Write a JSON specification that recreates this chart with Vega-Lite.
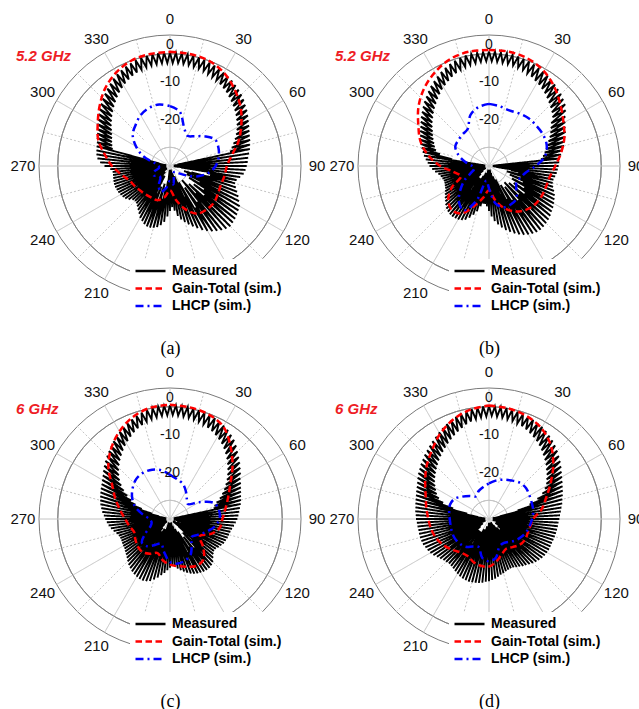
{
"$schema":"https://vega.github.io/schema/vega-lite/v6.json",
"background":"white",
"padding":{"left":10,"top":11,"right":0,"bottom":0},
"config":{"view":{"stroke":null},
"axisX":{"domain":false,"ticks":false,"labels":false,"grid":false,"titleFont":"Liberation Serif","titleFontSize":18,"titleFontWeight":"normal","titleColor":"#000","titlePadding":42},
"legend":{"symbolType":"stroke","symbolSize":900,"symbolStrokeWidth":2.5,"labelFont":"Liberation Sans","labelFontSize":14,"labelFontWeight":"bold","labelColor":"#000","fillColor":"white","padding":4,"clipHeight":16,"rowPadding":1.5,"labelOffset":5}},
"datasets":{
"rings":[{"v":-25,"k":"d"},{"v":-20,"k":"s"},{"v":-15,"k":"d"},{"v":-10,"k":"s"},{"v":-5,"k":"d"},{"v":0,"k":"s"},{"v":5,"k":"o"}],
"spokes":[{"t":0,"f":-30},{"t":30,"f":-30},{"t":60,"f":-30},{"t":90,"f":-30},{"t":120,"f":-30},{"t":150,"f":-30},{"t":180,"f":-30},{"t":210,"f":-30},{"t":240,"f":-30},{"t":270,"f":-30},{"t":300,"f":-30},{"t":330,"f":-30},{"t":15,"f":-20},{"t":45,"f":-20},{"t":75,"f":-20},{"t":105,"f":-20},{"t":135,"f":-20},{"t":165,"f":-20},{"t":195,"f":-20},{"t":225,"f":-20},{"t":255,"f":-20},{"t":285,"f":-20},{"t":315,"f":-20},{"t":345,"f":-20}],
"alab":[{"t":0,"l":"0"},{"t":30,"l":"30"},{"t":60,"l":"60"},{"t":90,"l":"90"},{"t":120,"l":"120"},{"t":210,"l":"210"},{"t":240,"l":"240"},{"t":270,"l":"270"},{"t":300,"l":"300"},{"t":330,"l":"330"}],
"rlab":[{"v":0,"l":"0"},{"v":-10,"l":"-10"},{"v":-20,"l":"-20"}],
"a":[
{"s":"M","t":0,"g":0.3},{"s":"M","t":1.5,"g":-2.5},{"s":"M","t":3,"g":0.3},{"s":"M","t":4.5,"g":-2.4},{"s":"M","t":6,"g":0.2},{"s":"M","t":7.5,"g":-2.5},{"s":"M","t":9,"g":0.2},{"s":"M","t":10.5,"g":-2.6},{"s":"M","t":12,"g":0.1},{"s":"M","t":13.5,"g":-2.8},{"s":"M","t":15,"g":0},{"s":"M","t":16.5,"g":-2.9},{"s":"M","t":18,"g":-0.2},{"s":"M","t":19.5,"g":-3.1},{"s":"M","t":21,"g":-0.4},{"s":"M","t":22.5,"g":-3.4},{"s":"M","t":24,"g":-0.6},{"s":"M","t":25.5,"g":-3.7},{"s":"M","t":27,"g":-0.9},{"s":"M","t":28.5,"g":-4},{"s":"M","t":30,"g":-1.2},{"s":"M","t":31.5,"g":-4.4},{"s":"M","t":33,"g":-1.5},{"s":"M","t":34.5,"g":-4.8},{"s":"M","t":36,"g":-1.8},{"s":"M","t":37.5,"g":-5.2},{"s":"M","t":39,"g":-2.2},{"s":"M","t":40.5,"g":-5.7},{"s":"M","t":42,"g":-2.6},{"s":"M","t":43.5,"g":-6.2},{"s":"M","t":45,"g":-3},{"s":"M","t":46.5,"g":-6.7},{"s":"M","t":48,"g":-3.5},{"s":"M","t":49.5,"g":-7.2},{"s":"M","t":51,"g":-4.1},{"s":"M","t":52.5,"g":-7.8},{"s":"M","t":54,"g":-4.6},{"s":"M","t":55.5,"g":-8.4},{"s":"M","t":57,"g":-5.2},{"s":"M","t":58.5,"g":-9},{"s":"M","t":60,"g":-5.8},{"s":"M","t":61.5,"g":-9.7},{"s":"M","t":63,"g":-6.3},{"s":"M","t":64.5,"g":-10.4},{"s":"M","t":66,"g":-6.8},{"s":"M","t":67.5,"g":-11.2},{"s":"M","t":69,"g":-7.2},{"s":"M","t":70.5,"g":-12},{"s":"M","t":72,"g":-7.5},{"s":"M","t":73.5,"g":-12.8},{"s":"M","t":75,"g":-7.9},{"s":"M","t":76.5,"g":-13.5},{"s":"M","t":78,"g":-8.2},{"s":"M","t":79.5,"g":-28},{"s":"M","t":81,"g":-8.6},{"s":"M","t":82.5,"g":-29},{"s":"M","t":84,"g":-9},{"s":"M","t":85.5,"g":-28},{"s":"M","t":87,"g":-9.2},{"s":"M","t":88.5,"g":-29},{"s":"M","t":90,"g":-9.5},{"s":"M","t":91.5,"g":-28.5},{"s":"M","t":93,"g":-9.8},{"s":"M","t":94.5,"g":-29},{"s":"M","t":96,"g":-10.2},{"s":"M","t":97.5,"g":-27},{"s":"M","t":99,"g":-11},{"s":"M","t":100.5,"g":-20},{"s":"M","t":102,"g":-11.8},{"s":"M","t":103.5,"g":-19},{"s":"M","t":105,"g":-12},{"s":"M","t":106.5,"g":-24},{"s":"M","t":108,"g":-11.5},{"s":"M","t":109.5,"g":-26},{"s":"M","t":111,"g":-10.8},{"s":"M","t":112.5,"g":-23},{"s":"M","t":114,"g":-10},{"s":"M","t":115.5,"g":-25},{"s":"M","t":117,"g":-9.3},{"s":"M","t":118.5,"g":-21},{"s":"M","t":120,"g":-8.5},{"s":"M","t":121.5,"g":-24},{"s":"M","t":123,"g":-8.2},{"s":"M","t":124.5,"g":-19},{"s":"M","t":126,"g":-7.9},{"s":"M","t":127.5,"g":-22},{"s":"M","t":129,"g":-7.6},{"s":"M","t":130.5,"g":-18},{"s":"M","t":132,"g":-7.4},{"s":"M","t":133.5,"g":-23},{"s":"M","t":135,"g":-7.2},{"s":"M","t":136.5,"g":-20},{"s":"M","t":138,"g":-7.5},{"s":"M","t":139.5,"g":-25},{"s":"M","t":141,"g":-8},{"s":"M","t":142.5,"g":-18},{"s":"M","t":144,"g":-8.6},{"s":"M","t":145.5,"g":-23},{"s":"M","t":147,"g":-9.2},{"s":"M","t":148.5,"g":-17},{"s":"M","t":150,"g":-10},{"s":"M","t":151.5,"g":-25},{"s":"M","t":153,"g":-10.8},{"s":"M","t":154.5,"g":-21},{"s":"M","t":156,"g":-11.8},{"s":"M","t":157.5,"g":-27},{"s":"M","t":159,"g":-12.7},{"s":"M","t":160.5,"g":-22},{"s":"M","t":162,"g":-13.6},{"s":"M","t":163.5,"g":-28},{"s":"M","t":165,"g":-14.5},{"s":"M","t":166.5,"g":-27},{"s":"M","t":168,"g":-15.4},{"s":"M","t":169.5,"g":-29},{"s":"M","t":171,"g":-16.5},{"s":"M","t":172.5,"g":-28},{"s":"M","t":174,"g":-18},{"s":"M","t":175.5,"g":-29},{"s":"M","t":177,"g":-19},{"s":"M","t":178.5,"g":-29},{"s":"M","t":180,"g":-18},{"s":"M","t":181.5,"g":-28},{"s":"M","t":183,"g":-16.5},{"s":"M","t":184.5,"g":-29},{"s":"M","t":186,"g":-15},{"s":"M","t":187.5,"g":-26},{"s":"M","t":189,"g":-14},{"s":"M","t":190.5,"g":-24},{"s":"M","t":192,"g":-13.3},{"s":"M","t":193.5,"g":-21},{"s":"M","t":195,"g":-12.9},{"s":"M","t":196.5,"g":-25},{"s":"M","t":198,"g":-12.7},{"s":"M","t":199.5,"g":-20},{"s":"M","t":201,"g":-12.7},{"s":"M","t":202.5,"g":-24},{"s":"M","t":204,"g":-13},{"s":"M","t":205.5,"g":-22},{"s":"M","t":207,"g":-13.5},{"s":"M","t":208.5,"g":-27},{"s":"M","t":210,"g":-14},{"s":"M","t":211.5,"g":-23},{"s":"M","t":213,"g":-14.8},{"s":"M","t":214.5,"g":-27},{"s":"M","t":216,"g":-15.5},{"s":"M","t":217.5,"g":-25},{"s":"M","t":219,"g":-16.1},{"s":"M","t":220.5,"g":-28},{"s":"M","t":222,"g":-16.6},{"s":"M","t":223.5,"g":-26},{"s":"M","t":225,"g":-16.8},{"s":"M","t":226.5,"g":-28},{"s":"M","t":228,"g":-16.5},{"s":"M","t":229.5,"g":-27},{"s":"M","t":231,"g":-15.8},{"s":"M","t":232.5,"g":-29},{"s":"M","t":234,"g":-15.2},{"s":"M","t":235.5,"g":-27},{"s":"M","t":237,"g":-14.9},{"s":"M","t":238.5,"g":-29},{"s":"M","t":240,"g":-14.7},{"s":"M","t":241.5,"g":-26},{"s":"M","t":243,"g":-14.5},{"s":"M","t":244.5,"g":-28},{"s":"M","t":246,"g":-14.4},{"s":"M","t":247.5,"g":-27},{"s":"M","t":249,"g":-14.3},{"s":"M","t":250.5,"g":-29},{"s":"M","t":252,"g":-14.3},{"s":"M","t":253.5,"g":-28},{"s":"M","t":255,"g":-14.4},{"s":"M","t":256.5,"g":-29},{"s":"M","t":258,"g":-14.5},{"s":"M","t":259.5,"g":-28},{"s":"M","t":261,"g":-14.6},{"s":"M","t":262.5,"g":-29},{"s":"M","t":264,"g":-14.6},{"s":"M","t":265.5,"g":-29},{"s":"M","t":267,"g":-14},{"s":"M","t":268.5,"g":-29},{"s":"M","t":270,"g":-12.5},{"s":"M","t":271.5,"g":-29},{"s":"M","t":273,"g":-11.3},{"s":"M","t":274.5,"g":-29},{"s":"M","t":276,"g":-10.5},{"s":"M","t":277.5,"g":-28},{"s":"M","t":279,"g":-10.1},{"s":"M","t":280.5,"g":-29},{"s":"M","t":282,"g":-9.9},{"s":"M","t":283.5,"g":-27},{"s":"M","t":285,"g":-9.7},{"s":"M","t":286.5,"g":-14},{"s":"M","t":288,"g":-9.5},{"s":"M","t":289.5,"g":-13.6},{"s":"M","t":291,"g":-9.1},{"s":"M","t":292.5,"g":-13.2},{"s":"M","t":294,"g":-8.7},{"s":"M","t":295.5,"g":-12.8},{"s":"M","t":297,"g":-8.2},{"s":"M","t":298.5,"g":-12.3},{"s":"M","t":300,"g":-7.6},{"s":"M","t":301.5,"g":-11.7},{"s":"M","t":303,"g":-7},{"s":"M","t":304.5,"g":-11},{"s":"M","t":306,"g":-6.4},{"s":"M","t":307.5,"g":-10.3},{"s":"M","t":309,"g":-5.8},{"s":"M","t":310.5,"g":-9.6},{"s":"M","t":312,"g":-5.2},{"s":"M","t":313.5,"g":-8.9},{"s":"M","t":315,"g":-4.6},{"s":"M","t":316.5,"g":-8.2},{"s":"M","t":318,"g":-4},{"s":"M","t":319.5,"g":-7.5},{"s":"M","t":321,"g":-3.4},{"s":"M","t":322.5,"g":-6.8},{"s":"M","t":324,"g":-2.8},{"s":"M","t":325.5,"g":-6.1},{"s":"M","t":327,"g":-2.2},{"s":"M","t":328.5,"g":-5.5},{"s":"M","t":330,"g":-1.7},{"s":"M","t":331.5,"g":-4.9},{"s":"M","t":333,"g":-1.3},{"s":"M","t":334.5,"g":-4.4},{"s":"M","t":336,"g":-0.9},{"s":"M","t":337.5,"g":-3.9},{"s":"M","t":339,"g":-0.6},{"s":"M","t":340.5,"g":-3.5},{"s":"M","t":342,"g":-0.3},{"s":"M","t":343.5,"g":-3.2},{"s":"M","t":345,"g":-0.1},{"s":"M","t":346.5,"g":-2.9},{"s":"M","t":348,"g":0.1},{"s":"M","t":349.5,"g":-2.7},{"s":"M","t":351,"g":0.2},{"s":"M","t":352.5,"g":-2.6},{"s":"M","t":354,"g":0.3},{"s":"M","t":355.5,"g":-2.5},{"s":"M","t":357,"g":0.3},{"s":"M","t":358.5,"g":-2.5},{"s":"M","t":360,"g":0.3},
{"s":"G","t":0,"g":0.5},{"s":"G","t":10,"g":0.4},{"s":"G","t":20,"g":0},{"s":"G","t":30,"g":-1.2},{"s":"G","t":40,"g":-3.2},{"s":"G","t":50,"g":-5.4},{"s":"G","t":60,"g":-8},{"s":"G","t":70,"g":-10.5},{"s":"G","t":80,"g":-13.2},{"s":"G","t":90,"g":-14.8},{"s":"G","t":100,"g":-15.2},{"s":"G","t":110,"g":-15.5},{"s":"G","t":120,"g":-15.2},{"s":"G","t":130,"g":-14.7},{"s":"G","t":140,"g":-14.8},{"s":"G","t":150,"g":-15.3},{"s":"G","t":160,"g":-17.6},{"s":"G","t":170,"g":-20.8},{"s":"G","t":180,"g":-23.5},{"s":"G","t":190,"g":-21.5},{"s":"G","t":200,"g":-20.3},{"s":"G","t":210,"g":-20.2},{"s":"G","t":220,"g":-20},{"s":"G","t":230,"g":-19.7},{"s":"G","t":240,"g":-19.2},{"s":"G","t":250,"g":-18.5},{"s":"G","t":260,"g":-16.8},{"s":"G","t":270,"g":-14.5},{"s":"G","t":280,"g":-12.3},{"s":"G","t":290,"g":-9.6},{"s":"G","t":300,"g":-7.7},{"s":"G","t":310,"g":-5.4},{"s":"G","t":320,"g":-3},{"s":"G","t":330,"g":-1.2},{"s":"G","t":340,"g":0},{"s":"G","t":350,"g":0.4},{"s":"G","t":360,"g":0.5},
{"s":"L","t":0,"g":-14},{"s":"L","t":10,"g":-15.2},{"s":"L","t":20,"g":-19},{"s":"L","t":30,"g":-20.7},{"s":"L","t":40,"g":-19.6},{"s":"L","t":50,"g":-17.7},{"s":"L","t":60,"g":-16},{"s":"L","t":70,"g":-16.2},{"s":"L","t":80,"g":-16.8},{"s":"L","t":90,"g":-17.8},{"s":"L","t":100,"g":-19.5},{"s":"L","t":110,"g":-22},{"s":"L","t":120,"g":-25},{"s":"L","t":130,"g":-27},{"s":"L","t":140,"g":-28},{"s":"L","t":150,"g":-28},{"s":"L","t":160,"g":-27},{"s":"L","t":170,"g":-25},{"s":"L","t":180,"g":-26},{"s":"L","t":190,"g":-24},{"s":"L","t":200,"g":-22.6},{"s":"L","t":210,"g":-24},{"s":"L","t":220,"g":-26},{"s":"L","t":230,"g":-26},{"s":"L","t":240,"g":-25},{"s":"L","t":250,"g":-25.5},{"s":"L","t":260,"g":-27},{"s":"L","t":270,"g":-27},{"s":"L","t":280,"g":-26},{"s":"L","t":290,"g":-22.4},{"s":"L","t":300,"g":-19.5},{"s":"L","t":310,"g":-17},{"s":"L","t":320,"g":-15.7},{"s":"L","t":330,"g":-14.3},{"s":"L","t":340,"g":-13.5},{"s":"L","t":350,"g":-13.3},{"s":"L","t":360,"g":-14}
],
"b":[
{"s":"M","t":0,"g":0.6},{"s":"M","t":1.5,"g":-2},{"s":"M","t":3,"g":0.6},{"s":"M","t":4.5,"g":-2.1},{"s":"M","t":6,"g":0.5},{"s":"M","t":7.5,"g":-2.2},{"s":"M","t":9,"g":0.5},{"s":"M","t":10.5,"g":-2.3},{"s":"M","t":12,"g":0.4},{"s":"M","t":13.5,"g":-2.4},{"s":"M","t":15,"g":0.3},{"s":"M","t":16.5,"g":-2.6},{"s":"M","t":18,"g":0.1},{"s":"M","t":19.5,"g":-2.8},{"s":"M","t":21,"g":-0.1},{"s":"M","t":22.5,"g":-3.2},{"s":"M","t":24,"g":-0.3},{"s":"M","t":25.5,"g":-3.6},{"s":"M","t":27,"g":-0.6},{"s":"M","t":28.5,"g":-4.1},{"s":"M","t":30,"g":-0.9},{"s":"M","t":31.5,"g":-4.5},{"s":"M","t":33,"g":-1.2},{"s":"M","t":34.5,"g":-5},{"s":"M","t":36,"g":-1.6},{"s":"M","t":37.5,"g":-5.5},{"s":"M","t":39,"g":-2},{"s":"M","t":40.5,"g":-6.1},{"s":"M","t":42,"g":-2.4},{"s":"M","t":43.5,"g":-6.7},{"s":"M","t":45,"g":-2.8},{"s":"M","t":46.5,"g":-7.3},{"s":"M","t":48,"g":-3.3},{"s":"M","t":49.5,"g":-7.9},{"s":"M","t":51,"g":-3.8},{"s":"M","t":52.5,"g":-8.6},{"s":"M","t":54,"g":-4.7},{"s":"M","t":55.5,"g":-9.8},{"s":"M","t":57,"g":-5.7},{"s":"M","t":58.5,"g":-10.6},{"s":"M","t":60,"g":-6.5},{"s":"M","t":61.5,"g":-11.3},{"s":"M","t":63,"g":-7.1},{"s":"M","t":64.5,"g":-12},{"s":"M","t":66,"g":-7.6},{"s":"M","t":67.5,"g":-12.8},{"s":"M","t":69,"g":-8.2},{"s":"M","t":70.5,"g":-13.5},{"s":"M","t":72,"g":-8.8},{"s":"M","t":73.5,"g":-14.1},{"s":"M","t":75,"g":-9.3},{"s":"M","t":76.5,"g":-14.7},{"s":"M","t":78,"g":-9.9},{"s":"M","t":79.5,"g":-15.3},{"s":"M","t":81,"g":-10.5},{"s":"M","t":82.5,"g":-16},{"s":"M","t":84,"g":-11},{"s":"M","t":85.5,"g":-29},{"s":"M","t":87,"g":-11.2},{"s":"M","t":88.5,"g":-29},{"s":"M","t":90,"g":-11.4},{"s":"M","t":91.5,"g":-28.5},{"s":"M","t":93,"g":-11.6},{"s":"M","t":94.5,"g":-29},{"s":"M","t":96,"g":-11.8},{"s":"M","t":97.5,"g":-28},{"s":"M","t":99,"g":-12.1},{"s":"M","t":100.5,"g":-24},{"s":"M","t":102,"g":-12.4},{"s":"M","t":103.5,"g":-22},{"s":"M","t":105,"g":-12.4},{"s":"M","t":106.5,"g":-25},{"s":"M","t":108,"g":-12},{"s":"M","t":109.5,"g":-21},{"s":"M","t":111,"g":-11.4},{"s":"M","t":112.5,"g":-24},{"s":"M","t":114,"g":-10.8},{"s":"M","t":115.5,"g":-20},{"s":"M","t":117,"g":-10.4},{"s":"M","t":118.5,"g":-23},{"s":"M","t":120,"g":-10},{"s":"M","t":121.5,"g":-19},{"s":"M","t":123,"g":-9.6},{"s":"M","t":124.5,"g":-22},{"s":"M","t":126,"g":-9.3},{"s":"M","t":127.5,"g":-18},{"s":"M","t":129,"g":-8.9},{"s":"M","t":130.5,"g":-23},{"s":"M","t":132,"g":-8.6},{"s":"M","t":133.5,"g":-19},{"s":"M","t":135,"g":-8.4},{"s":"M","t":136.5,"g":-24},{"s":"M","t":138,"g":-8.2},{"s":"M","t":139.5,"g":-18},{"s":"M","t":141,"g":-8.1},{"s":"M","t":142.5,"g":-23},{"s":"M","t":144,"g":-8.2},{"s":"M","t":145.5,"g":-19},{"s":"M","t":147,"g":-8.5},{"s":"M","t":148.5,"g":-24},{"s":"M","t":150,"g":-8.9},{"s":"M","t":151.5,"g":-20},{"s":"M","t":153,"g":-9.4},{"s":"M","t":154.5,"g":-26},{"s":"M","t":156,"g":-10},{"s":"M","t":157.5,"g":-22},{"s":"M","t":159,"g":-10.7},{"s":"M","t":160.5,"g":-27},{"s":"M","t":162,"g":-11.5},{"s":"M","t":163.5,"g":-23},{"s":"M","t":165,"g":-12.3},{"s":"M","t":166.5,"g":-28},{"s":"M","t":168,"g":-13.2},{"s":"M","t":169.5,"g":-29},{"s":"M","t":171,"g":-14.2},{"s":"M","t":172.5,"g":-28},{"s":"M","t":174,"g":-15.2},{"s":"M","t":175.5,"g":-29},{"s":"M","t":177,"g":-16.5},{"s":"M","t":178.5,"g":-29},{"s":"M","t":180,"g":-18},{"s":"M","t":181.5,"g":-28},{"s":"M","t":183,"g":-19.2},{"s":"M","t":184.5,"g":-29},{"s":"M","t":186,"g":-19.8},{"s":"M","t":187.5,"g":-28},{"s":"M","t":189,"g":-19.8},{"s":"M","t":190.5,"g":-29},{"s":"M","t":192,"g":-19},{"s":"M","t":193.5,"g":-27},{"s":"M","t":195,"g":-17.5},{"s":"M","t":196.5,"g":-28},{"s":"M","t":198,"g":-16.3},{"s":"M","t":199.5,"g":-26},{"s":"M","t":201,"g":-15.2},{"s":"M","t":202.5,"g":-28},{"s":"M","t":204,"g":-14.3},{"s":"M","t":205.5,"g":-24},{"s":"M","t":207,"g":-13.8},{"s":"M","t":208.5,"g":-27},{"s":"M","t":210,"g":-13.5},{"s":"M","t":211.5,"g":-23},{"s":"M","t":213,"g":-13.4},{"s":"M","t":214.5,"g":-26},{"s":"M","t":216,"g":-13.3},{"s":"M","t":217.5,"g":-22},{"s":"M","t":219,"g":-13.4},{"s":"M","t":220.5,"g":-26},{"s":"M","t":222,"g":-13.6},{"s":"M","t":223.5,"g":-24},{"s":"M","t":225,"g":-13.9},{"s":"M","t":226.5,"g":-27},{"s":"M","t":228,"g":-14.4},{"s":"M","t":229.5,"g":-25},{"s":"M","t":231,"g":-15},{"s":"M","t":232.5,"g":-28},{"s":"M","t":234,"g":-15.5},{"s":"M","t":235.5,"g":-27},{"s":"M","t":237,"g":-16},{"s":"M","t":238.5,"g":-29},{"s":"M","t":240,"g":-16.5},{"s":"M","t":241.5,"g":-28},{"s":"M","t":243,"g":-16.9},{"s":"M","t":244.5,"g":-29},{"s":"M","t":246,"g":-17.1},{"s":"M","t":247.5,"g":-28},{"s":"M","t":249,"g":-17.3},{"s":"M","t":250.5,"g":-29},{"s":"M","t":252,"g":-17.3},{"s":"M","t":253.5,"g":-29},{"s":"M","t":255,"g":-17.1},{"s":"M","t":256.5,"g":-28},{"s":"M","t":258,"g":-16.8},{"s":"M","t":259.5,"g":-29},{"s":"M","t":261,"g":-16.3},{"s":"M","t":262.5,"g":-29},{"s":"M","t":264,"g":-15.5},{"s":"M","t":265.5,"g":-29},{"s":"M","t":267,"g":-14.8},{"s":"M","t":268.5,"g":-29},{"s":"M","t":270,"g":-14.1},{"s":"M","t":271.5,"g":-28.5},{"s":"M","t":273,"g":-13.6},{"s":"M","t":274.5,"g":-29},{"s":"M","t":276,"g":-13},{"s":"M","t":277.5,"g":-29},{"s":"M","t":279,"g":-12.4},{"s":"M","t":280.5,"g":-20},{"s":"M","t":282,"g":-11.9},{"s":"M","t":283.5,"g":-16.5},{"s":"M","t":285,"g":-11.4},{"s":"M","t":286.5,"g":-15.2},{"s":"M","t":288,"g":-10.8},{"s":"M","t":289.5,"g":-14.6},{"s":"M","t":291,"g":-10.4},{"s":"M","t":292.5,"g":-14.1},{"s":"M","t":294,"g":-9.9},{"s":"M","t":295.5,"g":-13.5},{"s":"M","t":297,"g":-9.4},{"s":"M","t":298.5,"g":-12.9},{"s":"M","t":300,"g":-8.9},{"s":"M","t":301.5,"g":-12.3},{"s":"M","t":303,"g":-8.3},{"s":"M","t":304.5,"g":-11.6},{"s":"M","t":306,"g":-7.6},{"s":"M","t":307.5,"g":-10.9},{"s":"M","t":309,"g":-7},{"s":"M","t":310.5,"g":-10.2},{"s":"M","t":312,"g":-6.3},{"s":"M","t":313.5,"g":-9.5},{"s":"M","t":315,"g":-5.6},{"s":"M","t":316.5,"g":-8.8},{"s":"M","t":318,"g":-5},{"s":"M","t":319.5,"g":-8.1},{"s":"M","t":321,"g":-4.3},{"s":"M","t":322.5,"g":-7.4},{"s":"M","t":324,"g":-3.6},{"s":"M","t":325.5,"g":-6.7},{"s":"M","t":327,"g":-3},{"s":"M","t":328.5,"g":-6},{"s":"M","t":330,"g":-2.4},{"s":"M","t":331.5,"g":-5.4},{"s":"M","t":333,"g":-1.8},{"s":"M","t":334.5,"g":-4.8},{"s":"M","t":336,"g":-1.3},{"s":"M","t":337.5,"g":-4.2},{"s":"M","t":339,"g":-0.8},{"s":"M","t":340.5,"g":-3.7},{"s":"M","t":342,"g":-0.4},{"s":"M","t":343.5,"g":-3.2},{"s":"M","t":345,"g":-0.1},{"s":"M","t":346.5,"g":-2.8},{"s":"M","t":348,"g":0.2},{"s":"M","t":349.5,"g":-2.5},{"s":"M","t":351,"g":0.3},{"s":"M","t":352.5,"g":-2.3},{"s":"M","t":354,"g":0.4},{"s":"M","t":355.5,"g":-2.1},{"s":"M","t":357,"g":0.5},{"s":"M","t":358.5,"g":-2},{"s":"M","t":360,"g":0.6},
{"s":"G","t":0,"g":1},{"s":"G","t":10,"g":1},{"s":"G","t":20,"g":0.5},{"s":"G","t":30,"g":-0.7},{"s":"G","t":40,"g":-2.7},{"s":"G","t":50,"g":-5},{"s":"G","t":60,"g":-7},{"s":"G","t":70,"g":-8.6},{"s":"G","t":80,"g":-10.5},{"s":"G","t":90,"g":-12.3},{"s":"G","t":100,"g":-13.5},{"s":"G","t":110,"g":-13.8},{"s":"G","t":120,"g":-13.8},{"s":"G","t":130,"g":-14},{"s":"G","t":140,"g":-14.7},{"s":"G","t":150,"g":-16},{"s":"G","t":160,"g":-18},{"s":"G","t":170,"g":-20.8},{"s":"G","t":180,"g":-23.5},{"s":"G","t":190,"g":-21.5},{"s":"G","t":200,"g":-18.7},{"s":"G","t":210,"g":-15.4},{"s":"G","t":220,"g":-14.6},{"s":"G","t":230,"g":-15.8},{"s":"G","t":240,"g":-18.5},{"s":"G","t":250,"g":-22},{"s":"G","t":260,"g":-20.5},{"s":"G","t":270,"g":-17},{"s":"G","t":280,"g":-13.5},{"s":"G","t":290,"g":-10.5},{"s":"G","t":300,"g":-8.2},{"s":"G","t":310,"g":-5.4},{"s":"G","t":320,"g":-3},{"s":"G","t":330,"g":-1.1},{"s":"G","t":340,"g":0.4},{"s":"G","t":350,"g":1},{"s":"G","t":360,"g":1},
{"s":"L","t":0,"g":-13.4},{"s":"L","t":10,"g":-13.8},{"s":"L","t":20,"g":-14.2},{"s":"L","t":30,"g":-13.8},{"s":"L","t":40,"g":-13.4},{"s":"L","t":50,"g":-13.4},{"s":"L","t":60,"g":-13.3},{"s":"L","t":70,"g":-13.6},{"s":"L","t":80,"g":-14.8},{"s":"L","t":90,"g":-17.5},{"s":"L","t":100,"g":-20},{"s":"L","t":110,"g":-21},{"s":"L","t":120,"g":-21.5},{"s":"L","t":130,"g":-20.5},{"s":"L","t":140,"g":-18.6},{"s":"L","t":150,"g":-18.2},{"s":"L","t":160,"g":-18.3},{"s":"L","t":170,"g":-19.8},{"s":"L","t":180,"g":-24},{"s":"L","t":190,"g":-26},{"s":"L","t":200,"g":-20},{"s":"L","t":210,"g":-16.3},{"s":"L","t":220,"g":-17.5},{"s":"L","t":230,"g":-20},{"s":"L","t":240,"g":-22.5},{"s":"L","t":250,"g":-25},{"s":"L","t":260,"g":-26},{"s":"L","t":270,"g":-25.5},{"s":"L","t":280,"g":-23.5},{"s":"L","t":290,"g":-21.3},{"s":"L","t":300,"g":-19.6},{"s":"L","t":310,"g":-19.3},{"s":"L","t":320,"g":-19},{"s":"L","t":330,"g":-18.6},{"s":"L","t":340,"g":-15.5},{"s":"L","t":350,"g":-14},{"s":"L","t":360,"g":-13.4}
],
"c":[
{"s":"M","t":0,"g":0.4},{"s":"M","t":1.5,"g":-2.2},{"s":"M","t":3,"g":0.4},{"s":"M","t":4.5,"g":-2.3},{"s":"M","t":6,"g":0.3},{"s":"M","t":7.5,"g":-2.4},{"s":"M","t":9,"g":0.3},{"s":"M","t":10.5,"g":-2.5},{"s":"M","t":12,"g":0.2},{"s":"M","t":13.5,"g":-2.7},{"s":"M","t":15,"g":0.1},{"s":"M","t":16.5,"g":-2.9},{"s":"M","t":18,"g":-0.1},{"s":"M","t":19.5,"g":-3.2},{"s":"M","t":21,"g":-0.3},{"s":"M","t":22.5,"g":-3.6},{"s":"M","t":24,"g":-0.5},{"s":"M","t":25.5,"g":-4},{"s":"M","t":27,"g":-0.8},{"s":"M","t":28.5,"g":-4.5},{"s":"M","t":30,"g":-1.2},{"s":"M","t":31.5,"g":-5},{"s":"M","t":33,"g":-1.6},{"s":"M","t":34.5,"g":-5.6},{"s":"M","t":36,"g":-2.2},{"s":"M","t":37.5,"g":-6.3},{"s":"M","t":39,"g":-2.8},{"s":"M","t":40.5,"g":-7.1},{"s":"M","t":42,"g":-3.6},{"s":"M","t":43.5,"g":-7.9},{"s":"M","t":45,"g":-4.5},{"s":"M","t":46.5,"g":-8.8},{"s":"M","t":48,"g":-5.3},{"s":"M","t":49.5,"g":-9.7},{"s":"M","t":51,"g":-6},{"s":"M","t":52.5,"g":-10.6},{"s":"M","t":54,"g":-6.8},{"s":"M","t":55.5,"g":-11.5},{"s":"M","t":57,"g":-7.5},{"s":"M","t":58.5,"g":-12.5},{"s":"M","t":60,"g":-8.3},{"s":"M","t":61.5,"g":-13.5},{"s":"M","t":63,"g":-8.8},{"s":"M","t":64.5,"g":-14.5},{"s":"M","t":66,"g":-9.3},{"s":"M","t":67.5,"g":-15.6},{"s":"M","t":69,"g":-9.7},{"s":"M","t":70.5,"g":-16.8},{"s":"M","t":72,"g":-10.1},{"s":"M","t":73.5,"g":-17.6},{"s":"M","t":75,"g":-10.4},{"s":"M","t":76.5,"g":-18},{"s":"M","t":78,"g":-10.7},{"s":"M","t":79.5,"g":-29},{"s":"M","t":81,"g":-11.1},{"s":"M","t":82.5,"g":-28},{"s":"M","t":84,"g":-11.4},{"s":"M","t":85.5,"g":-29},{"s":"M","t":87,"g":-11.7},{"s":"M","t":88.5,"g":-28.5},{"s":"M","t":90,"g":-12},{"s":"M","t":91.5,"g":-29},{"s":"M","t":93,"g":-12.4},{"s":"M","t":94.5,"g":-28},{"s":"M","t":96,"g":-12.8},{"s":"M","t":97.5,"g":-29},{"s":"M","t":99,"g":-13.2},{"s":"M","t":100.5,"g":-25},{"s":"M","t":102,"g":-13.5},{"s":"M","t":103.5,"g":-28},{"s":"M","t":105,"g":-13.7},{"s":"M","t":106.5,"g":-24},{"s":"M","t":108,"g":-13.8},{"s":"M","t":109.5,"g":-27},{"s":"M","t":111,"g":-14},{"s":"M","t":112.5,"g":-23},{"s":"M","t":114,"g":-14.2},{"s":"M","t":115.5,"g":-28},{"s":"M","t":117,"g":-14.6},{"s":"M","t":118.5,"g":-24},{"s":"M","t":120,"g":-15},{"s":"M","t":121.5,"g":-29},{"s":"M","t":123,"g":-15.4},{"s":"M","t":124.5,"g":-26},{"s":"M","t":126,"g":-15.5},{"s":"M","t":127.5,"g":-29},{"s":"M","t":129,"g":-15.1},{"s":"M","t":130.5,"g":-27},{"s":"M","t":132,"g":-14.5},{"s":"M","t":133.5,"g":-22},{"s":"M","t":135,"g":-13.8},{"s":"M","t":136.5,"g":-25},{"s":"M","t":138,"g":-13.4},{"s":"M","t":139.5,"g":-20},{"s":"M","t":141,"g":-13.2},{"s":"M","t":142.5,"g":-24},{"s":"M","t":144,"g":-13.2},{"s":"M","t":145.5,"g":-21},{"s":"M","t":147,"g":-13.3},{"s":"M","t":148.5,"g":-26},{"s":"M","t":150,"g":-13.5},{"s":"M","t":151.5,"g":-20},{"s":"M","t":153,"g":-13.7},{"s":"M","t":154.5,"g":-27},{"s":"M","t":156,"g":-14},{"s":"M","t":157.5,"g":-22},{"s":"M","t":159,"g":-14.4},{"s":"M","t":160.5,"g":-28},{"s":"M","t":162,"g":-14.9},{"s":"M","t":163.5,"g":-24},{"s":"M","t":165,"g":-15.5},{"s":"M","t":166.5,"g":-29},{"s":"M","t":168,"g":-16},{"s":"M","t":169.5,"g":-28},{"s":"M","t":171,"g":-16.6},{"s":"M","t":172.5,"g":-29},{"s":"M","t":174,"g":-17.2},{"s":"M","t":175.5,"g":-28},{"s":"M","t":177,"g":-17.5},{"s":"M","t":178.5,"g":-29},{"s":"M","t":180,"g":-17},{"s":"M","t":181.5,"g":-28},{"s":"M","t":183,"g":-16.3},{"s":"M","t":184.5,"g":-29},{"s":"M","t":186,"g":-15.5},{"s":"M","t":187.5,"g":-27},{"s":"M","t":189,"g":-14.8},{"s":"M","t":190.5,"g":-29},{"s":"M","t":192,"g":-14},{"s":"M","t":193.5,"g":-26},{"s":"M","t":195,"g":-13.3},{"s":"M","t":196.5,"g":-29},{"s":"M","t":198,"g":-12.6},{"s":"M","t":199.5,"g":-25},{"s":"M","t":201,"g":-12.2},{"s":"M","t":202.5,"g":-27},{"s":"M","t":204,"g":-12},{"s":"M","t":205.5,"g":-23},{"s":"M","t":207,"g":-12},{"s":"M","t":208.5,"g":-27},{"s":"M","t":210,"g":-12.2},{"s":"M","t":211.5,"g":-22},{"s":"M","t":213,"g":-12.4},{"s":"M","t":214.5,"g":-26},{"s":"M","t":216,"g":-12.7},{"s":"M","t":217.5,"g":-23},{"s":"M","t":219,"g":-13.1},{"s":"M","t":220.5,"g":-27},{"s":"M","t":222,"g":-13.5},{"s":"M","t":223.5,"g":-24},{"s":"M","t":225,"g":-14},{"s":"M","t":226.5,"g":-28},{"s":"M","t":228,"g":-14.5},{"s":"M","t":229.5,"g":-26},{"s":"M","t":231,"g":-14.9},{"s":"M","t":232.5,"g":-29},{"s":"M","t":234,"g":-15.2},{"s":"M","t":235.5,"g":-27},{"s":"M","t":237,"g":-15.5},{"s":"M","t":238.5,"g":-29},{"s":"M","t":240,"g":-15.6},{"s":"M","t":241.5,"g":-28},{"s":"M","t":243,"g":-15.7},{"s":"M","t":244.5,"g":-29},{"s":"M","t":246,"g":-15.8},{"s":"M","t":247.5,"g":-28},{"s":"M","t":249,"g":-15.8},{"s":"M","t":250.5,"g":-29},{"s":"M","t":252,"g":-15.6},{"s":"M","t":253.5,"g":-28},{"s":"M","t":255,"g":-15.2},{"s":"M","t":256.5,"g":-29},{"s":"M","t":258,"g":-14.6},{"s":"M","t":259.5,"g":-28},{"s":"M","t":261,"g":-14},{"s":"M","t":262.5,"g":-29},{"s":"M","t":264,"g":-13.5},{"s":"M","t":265.5,"g":-29},{"s":"M","t":267,"g":-13.1},{"s":"M","t":268.5,"g":-28.5},{"s":"M","t":270,"g":-12.7},{"s":"M","t":271.5,"g":-29},{"s":"M","t":273,"g":-12.3},{"s":"M","t":274.5,"g":-29},{"s":"M","t":276,"g":-11.8},{"s":"M","t":277.5,"g":-28},{"s":"M","t":279,"g":-11.4},{"s":"M","t":280.5,"g":-29},{"s":"M","t":282,"g":-11},{"s":"M","t":283.5,"g":-27},{"s":"M","t":285,"g":-10.7},{"s":"M","t":286.5,"g":-25},{"s":"M","t":288,"g":-10.4},{"s":"M","t":289.5,"g":-22},{"s":"M","t":291,"g":-10.1},{"s":"M","t":292.5,"g":-20},{"s":"M","t":294,"g":-9.8},{"s":"M","t":295.5,"g":-18.5},{"s":"M","t":297,"g":-9.5},{"s":"M","t":298.5,"g":-17},{"s":"M","t":300,"g":-9.1},{"s":"M","t":301.5,"g":-15.5},{"s":"M","t":303,"g":-8.6},{"s":"M","t":304.5,"g":-14.2},{"s":"M","t":306,"g":-8},{"s":"M","t":307.5,"g":-13},{"s":"M","t":309,"g":-7.4},{"s":"M","t":310.5,"g":-12},{"s":"M","t":312,"g":-6.8},{"s":"M","t":313.5,"g":-11.1},{"s":"M","t":315,"g":-6.2},{"s":"M","t":316.5,"g":-10.2},{"s":"M","t":318,"g":-5.6},{"s":"M","t":319.5,"g":-9.4},{"s":"M","t":321,"g":-5},{"s":"M","t":322.5,"g":-8.6},{"s":"M","t":324,"g":-4.3},{"s":"M","t":325.5,"g":-7.8},{"s":"M","t":327,"g":-3.7},{"s":"M","t":328.5,"g":-7},{"s":"M","t":330,"g":-3.1},{"s":"M","t":331.5,"g":-6.3},{"s":"M","t":333,"g":-2.5},{"s":"M","t":334.5,"g":-5.6},{"s":"M","t":336,"g":-2},{"s":"M","t":337.5,"g":-4.9},{"s":"M","t":339,"g":-1.5},{"s":"M","t":340.5,"g":-4.3},{"s":"M","t":342,"g":-1},{"s":"M","t":343.5,"g":-3.8},{"s":"M","t":345,"g":-0.6},{"s":"M","t":346.5,"g":-3.3},{"s":"M","t":348,"g":-0.2},{"s":"M","t":349.5,"g":-2.9},{"s":"M","t":351,"g":0},{"s":"M","t":352.5,"g":-2.6},{"s":"M","t":354,"g":0.2},{"s":"M","t":355.5,"g":-2.4},{"s":"M","t":357,"g":0.3},{"s":"M","t":358.5,"g":-2.3},{"s":"M","t":360,"g":0.4},
{"s":"G","t":0,"g":0.5},{"s":"G","t":10,"g":0.3},{"s":"G","t":20,"g":-0.2},{"s":"G","t":30,"g":-1.5},{"s":"G","t":40,"g":-4.8},{"s":"G","t":50,"g":-8.2},{"s":"G","t":60,"g":-11.4},{"s":"G","t":70,"g":-13.5},{"s":"G","t":80,"g":-15},{"s":"G","t":90,"g":-16},{"s":"G","t":100,"g":-16.5},{"s":"G","t":110,"g":-18.3},{"s":"G","t":120,"g":-20.8},{"s":"G","t":130,"g":-18.5},{"s":"G","t":140,"g":-16},{"s":"G","t":150,"g":-15.6},{"s":"G","t":160,"g":-16.4},{"s":"G","t":170,"g":-17.2},{"s":"G","t":180,"g":-17.8},{"s":"G","t":190,"g":-18.8},{"s":"G","t":200,"g":-20.3},{"s":"G","t":210,"g":-19.3},{"s":"G","t":220,"g":-18.5},{"s":"G","t":230,"g":-18.7},{"s":"G","t":240,"g":-19.3},{"s":"G","t":250,"g":-19.8},{"s":"G","t":260,"g":-19},{"s":"G","t":270,"g":-18},{"s":"G","t":280,"g":-16.5},{"s":"G","t":290,"g":-14.5},{"s":"G","t":300,"g":-12.2},{"s":"G","t":310,"g":-8.5},{"s":"G","t":320,"g":-5.5},{"s":"G","t":330,"g":-3},{"s":"G","t":340,"g":-1},{"s":"G","t":350,"g":0.2},{"s":"G","t":360,"g":0.5},
{"s":"L","t":0,"g":-18.2},{"s":"L","t":10,"g":-19.2},{"s":"L","t":20,"g":-20},{"s":"L","t":30,"g":-21.5},{"s":"L","t":40,"g":-23},{"s":"L","t":50,"g":-23.8},{"s":"L","t":60,"g":-21},{"s":"L","t":70,"g":-17.5},{"s":"L","t":80,"g":-16.7},{"s":"L","t":90,"g":-16.8},{"s":"L","t":100,"g":-18},{"s":"L","t":110,"g":-19.8},{"s":"L","t":120,"g":-21.5},{"s":"L","t":130,"g":-22.5},{"s":"L","t":140,"g":-21},{"s":"L","t":150,"g":-19},{"s":"L","t":160,"g":-18.2},{"s":"L","t":170,"g":-17.9},{"s":"L","t":180,"g":-18.5},{"s":"L","t":190,"g":-21},{"s":"L","t":200,"g":-23},{"s":"L","t":210,"g":-22},{"s":"L","t":220,"g":-20.5},{"s":"L","t":230,"g":-20.2},{"s":"L","t":240,"g":-22.5},{"s":"L","t":250,"g":-24.5},{"s":"L","t":260,"g":-25},{"s":"L","t":270,"g":-24.5},{"s":"L","t":280,"g":-22.5},{"s":"L","t":290,"g":-20},{"s":"L","t":300,"g":-18.3},{"s":"L","t":310,"g":-17},{"s":"L","t":320,"g":-16},{"s":"L","t":330,"g":-15.7},{"s":"L","t":340,"g":-16},{"s":"L","t":350,"g":-16.8},{"s":"L","t":360,"g":-18.2}
],
"d":[
{"s":"M","t":0,"g":0.2},{"s":"M","t":1.5,"g":-2.4},{"s":"M","t":3,"g":0.1},{"s":"M","t":4.5,"g":-2.6},{"s":"M","t":6,"g":0.1},{"s":"M","t":7.5,"g":-2.7},{"s":"M","t":9,"g":0},{"s":"M","t":10.5,"g":-2.9},{"s":"M","t":12,"g":-0.2},{"s":"M","t":13.5,"g":-3.1},{"s":"M","t":15,"g":-0.3},{"s":"M","t":16.5,"g":-3.4},{"s":"M","t":18,"g":-0.5},{"s":"M","t":19.5,"g":-3.7},{"s":"M","t":21,"g":-0.8},{"s":"M","t":22.5,"g":-4.1},{"s":"M","t":24,"g":-1},{"s":"M","t":25.5,"g":-4.6},{"s":"M","t":27,"g":-1.3},{"s":"M","t":28.5,"g":-5.1},{"s":"M","t":30,"g":-1.6},{"s":"M","t":31.5,"g":-5.6},{"s":"M","t":33,"g":-2},{"s":"M","t":34.5,"g":-6.2},{"s":"M","t":36,"g":-2.5},{"s":"M","t":37.5,"g":-6.9},{"s":"M","t":39,"g":-3},{"s":"M","t":40.5,"g":-7.6},{"s":"M","t":42,"g":-3.6},{"s":"M","t":43.5,"g":-8.3},{"s":"M","t":45,"g":-4.2},{"s":"M","t":46.5,"g":-9},{"s":"M","t":48,"g":-4.9},{"s":"M","t":49.5,"g":-9.8},{"s":"M","t":51,"g":-5.5},{"s":"M","t":52.5,"g":-10.5},{"s":"M","t":54,"g":-6.2},{"s":"M","t":55.5,"g":-11.3},{"s":"M","t":57,"g":-6.9},{"s":"M","t":58.5,"g":-12},{"s":"M","t":60,"g":-7.5},{"s":"M","t":61.5,"g":-13},{"s":"M","t":63,"g":-8},{"s":"M","t":64.5,"g":-14.2},{"s":"M","t":66,"g":-8.5},{"s":"M","t":67.5,"g":-16},{"s":"M","t":69,"g":-8.9},{"s":"M","t":70.5,"g":-18.5},{"s":"M","t":72,"g":-9.3},{"s":"M","t":73.5,"g":-22},{"s":"M","t":75,"g":-9.7},{"s":"M","t":76.5,"g":-27},{"s":"M","t":78,"g":-10},{"s":"M","t":79.5,"g":-29},{"s":"M","t":81,"g":-10.4},{"s":"M","t":82.5,"g":-28},{"s":"M","t":84,"g":-10.7},{"s":"M","t":85.5,"g":-29},{"s":"M","t":87,"g":-11},{"s":"M","t":88.5,"g":-28.5},{"s":"M","t":90,"g":-11.2},{"s":"M","t":91.5,"g":-29},{"s":"M","t":93,"g":-11.4},{"s":"M","t":94.5,"g":-28},{"s":"M","t":96,"g":-11.5},{"s":"M","t":97.5,"g":-29},{"s":"M","t":99,"g":-11.6},{"s":"M","t":100.5,"g":-27},{"s":"M","t":102,"g":-11.7},{"s":"M","t":103.5,"g":-29},{"s":"M","t":105,"g":-11.8},{"s":"M","t":106.5,"g":-26},{"s":"M","t":108,"g":-11.9},{"s":"M","t":109.5,"g":-28},{"s":"M","t":111,"g":-12},{"s":"M","t":112.5,"g":-25},{"s":"M","t":114,"g":-12},{"s":"M","t":115.5,"g":-28},{"s":"M","t":117,"g":-12},{"s":"M","t":118.5,"g":-24},{"s":"M","t":120,"g":-12.1},{"s":"M","t":121.5,"g":-28},{"s":"M","t":123,"g":-12.2},{"s":"M","t":124.5,"g":-24},{"s":"M","t":126,"g":-12.4},{"s":"M","t":127.5,"g":-27},{"s":"M","t":129,"g":-12.7},{"s":"M","t":130.5,"g":-23},{"s":"M","t":132,"g":-13},{"s":"M","t":133.5,"g":-26},{"s":"M","t":135,"g":-13.4},{"s":"M","t":136.5,"g":-24},{"s":"M","t":138,"g":-13.8},{"s":"M","t":139.5,"g":-27},{"s":"M","t":141,"g":-14.2},{"s":"M","t":142.5,"g":-25},{"s":"M","t":144,"g":-14.5},{"s":"M","t":145.5,"g":-28},{"s":"M","t":147,"g":-14.9},{"s":"M","t":148.5,"g":-26},{"s":"M","t":150,"g":-15.2},{"s":"M","t":151.5,"g":-29},{"s":"M","t":153,"g":-15.5},{"s":"M","t":154.5,"g":-27},{"s":"M","t":156,"g":-15.6},{"s":"M","t":157.5,"g":-29},{"s":"M","t":159,"g":-15.5},{"s":"M","t":160.5,"g":-28},{"s":"M","t":162,"g":-15.3},{"s":"M","t":163.5,"g":-29},{"s":"M","t":165,"g":-15},{"s":"M","t":166.5,"g":-27},{"s":"M","t":168,"g":-14.8},{"s":"M","t":169.5,"g":-29},{"s":"M","t":171,"g":-14.4},{"s":"M","t":172.5,"g":-28},{"s":"M","t":174,"g":-14},{"s":"M","t":175.5,"g":-29},{"s":"M","t":177,"g":-13.7},{"s":"M","t":178.5,"g":-27},{"s":"M","t":180,"g":-13.4},{"s":"M","t":181.5,"g":-29},{"s":"M","t":183,"g":-13.2},{"s":"M","t":184.5,"g":-26},{"s":"M","t":186,"g":-12.9},{"s":"M","t":187.5,"g":-28},{"s":"M","t":189,"g":-12.7},{"s":"M","t":190.5,"g":-25},{"s":"M","t":192,"g":-12.6},{"s":"M","t":193.5,"g":-28},{"s":"M","t":195,"g":-12.5},{"s":"M","t":196.5,"g":-24},{"s":"M","t":198,"g":-12.4},{"s":"M","t":199.5,"g":-27},{"s":"M","t":201,"g":-12.5},{"s":"M","t":202.5,"g":-23},{"s":"M","t":204,"g":-12.6},{"s":"M","t":205.5,"g":-27},{"s":"M","t":207,"g":-12.8},{"s":"M","t":208.5,"g":-23},{"s":"M","t":210,"g":-13.1},{"s":"M","t":211.5,"g":-26},{"s":"M","t":213,"g":-13.4},{"s":"M","t":214.5,"g":-22},{"s":"M","t":216,"g":-13.7},{"s":"M","t":217.5,"g":-26},{"s":"M","t":219,"g":-13.9},{"s":"M","t":220.5,"g":-22},{"s":"M","t":222,"g":-14},{"s":"M","t":223.5,"g":-26},{"s":"M","t":225,"g":-13.8},{"s":"M","t":226.5,"g":-23},{"s":"M","t":228,"g":-13.6},{"s":"M","t":229.5,"g":-27},{"s":"M","t":231,"g":-13.2},{"s":"M","t":232.5,"g":-24},{"s":"M","t":234,"g":-12.8},{"s":"M","t":235.5,"g":-28},{"s":"M","t":237,"g":-12.3},{"s":"M","t":238.5,"g":-25},{"s":"M","t":240,"g":-11.9},{"s":"M","t":241.5,"g":-28},{"s":"M","t":243,"g":-11.6},{"s":"M","t":244.5,"g":-26},{"s":"M","t":246,"g":-11.4},{"s":"M","t":247.5,"g":-29},{"s":"M","t":249,"g":-11.1},{"s":"M","t":250.5,"g":-27},{"s":"M","t":252,"g":-11},{"s":"M","t":253.5,"g":-29},{"s":"M","t":255,"g":-10.9},{"s":"M","t":256.5,"g":-28},{"s":"M","t":258,"g":-10.9},{"s":"M","t":259.5,"g":-29},{"s":"M","t":261,"g":-10.9},{"s":"M","t":262.5,"g":-28},{"s":"M","t":264,"g":-10.8},{"s":"M","t":265.5,"g":-29},{"s":"M","t":267,"g":-10.7},{"s":"M","t":268.5,"g":-29},{"s":"M","t":270,"g":-10.5},{"s":"M","t":271.5,"g":-28.5},{"s":"M","t":273,"g":-10.4},{"s":"M","t":274.5,"g":-29},{"s":"M","t":276,"g":-10.2},{"s":"M","t":277.5,"g":-29},{"s":"M","t":279,"g":-10.1},{"s":"M","t":280.5,"g":-27},{"s":"M","t":282,"g":-9.9},{"s":"M","t":283.5,"g":-24},{"s":"M","t":285,"g":-9.7},{"s":"M","t":286.5,"g":-20},{"s":"M","t":288,"g":-9.5},{"s":"M","t":289.5,"g":-17},{"s":"M","t":291,"g":-9.2},{"s":"M","t":292.5,"g":-15.5},{"s":"M","t":294,"g":-8.9},{"s":"M","t":295.5,"g":-14.5},{"s":"M","t":297,"g":-8.5},{"s":"M","t":298.5,"g":-13.8},{"s":"M","t":300,"g":-8},{"s":"M","t":301.5,"g":-13.1},{"s":"M","t":303,"g":-7.5},{"s":"M","t":304.5,"g":-12.4},{"s":"M","t":306,"g":-7.1},{"s":"M","t":307.5,"g":-11.8},{"s":"M","t":309,"g":-6.6},{"s":"M","t":310.5,"g":-11.2},{"s":"M","t":312,"g":-6.2},{"s":"M","t":313.5,"g":-10.6},{"s":"M","t":315,"g":-5.7},{"s":"M","t":316.5,"g":-10},{"s":"M","t":318,"g":-5.3},{"s":"M","t":319.5,"g":-9.4},{"s":"M","t":321,"g":-4.8},{"s":"M","t":322.5,"g":-8.8},{"s":"M","t":324,"g":-4.3},{"s":"M","t":325.5,"g":-8.2},{"s":"M","t":327,"g":-3.8},{"s":"M","t":328.5,"g":-7.6},{"s":"M","t":330,"g":-3.3},{"s":"M","t":331.5,"g":-7},{"s":"M","t":333,"g":-2.7},{"s":"M","t":334.5,"g":-6.4},{"s":"M","t":336,"g":-2.2},{"s":"M","t":337.5,"g":-5.8},{"s":"M","t":339,"g":-1.8},{"s":"M","t":340.5,"g":-5.2},{"s":"M","t":342,"g":-1.3},{"s":"M","t":343.5,"g":-4.6},{"s":"M","t":345,"g":-0.9},{"s":"M","t":346.5,"g":-4},{"s":"M","t":348,"g":-0.6},{"s":"M","t":349.5,"g":-3.5},{"s":"M","t":351,"g":-0.3},{"s":"M","t":352.5,"g":-3.1},{"s":"M","t":354,"g":-0.1},{"s":"M","t":355.5,"g":-2.8},{"s":"M","t":357,"g":0.1},{"s":"M","t":358.5,"g":-2.6},{"s":"M","t":360,"g":0.2},
{"s":"G","t":0,"g":0.3},{"s":"G","t":10,"g":0},{"s":"G","t":20,"g":-0.7},{"s":"G","t":30,"g":-2},{"s":"G","t":40,"g":-4.3},{"s":"G","t":50,"g":-7.6},{"s":"G","t":60,"g":-11},{"s":"G","t":70,"g":-13.8},{"s":"G","t":80,"g":-15.8},{"s":"G","t":90,"g":-18.2},{"s":"G","t":100,"g":-18.8},{"s":"G","t":110,"g":-19},{"s":"G","t":120,"g":-18.9},{"s":"G","t":130,"g":-19.3},{"s":"G","t":140,"g":-20.2},{"s":"G","t":150,"g":-20.8},{"s":"G","t":160,"g":-20},{"s":"G","t":170,"g":-18.5},{"s":"G","t":180,"g":-17.3},{"s":"G","t":190,"g":-17.3},{"s":"G","t":200,"g":-17.8},{"s":"G","t":210,"g":-18.6},{"s":"G","t":220,"g":-18.3},{"s":"G","t":230,"g":-17.2},{"s":"G","t":240,"g":-16},{"s":"G","t":250,"g":-15},{"s":"G","t":260,"g":-14.3},{"s":"G","t":270,"g":-13.8},{"s":"G","t":280,"g":-13},{"s":"G","t":290,"g":-12},{"s":"G","t":300,"g":-10.3},{"s":"G","t":310,"g":-8.2},{"s":"G","t":320,"g":-6.2},{"s":"G","t":330,"g":-3.8},{"s":"G","t":340,"g":-1.8},{"s":"G","t":350,"g":-0.4},{"s":"G","t":360,"g":0.3},
{"s":"L","t":0,"g":-20.5},{"s":"L","t":10,"g":-19.6},{"s":"L","t":20,"g":-18.8},{"s":"L","t":30,"g":-18.1},{"s":"L","t":40,"g":-17.3},{"s":"L","t":50,"g":-17.1},{"s":"L","t":60,"g":-17.5},{"s":"L","t":70,"g":-17.8},{"s":"L","t":80,"g":-18},{"s":"L","t":90,"g":-18.5},{"s":"L","t":100,"g":-19},{"s":"L","t":110,"g":-19.5},{"s":"L","t":120,"g":-20.2},{"s":"L","t":130,"g":-21},{"s":"L","t":140,"g":-22},{"s":"L","t":150,"g":-22.5},{"s":"L","t":160,"g":-22},{"s":"L","t":170,"g":-19.5},{"s":"L","t":180,"g":-18.7},{"s":"L","t":190,"g":-19.5},{"s":"L","t":200,"g":-22},{"s":"L","t":210,"g":-21.5},{"s":"L","t":220,"g":-20.3},{"s":"L","t":230,"g":-19.8},{"s":"L","t":240,"g":-19.5},{"s":"L","t":250,"g":-19.5},{"s":"L","t":260,"g":-19.6},{"s":"L","t":270,"g":-19.5},{"s":"L","t":280,"g":-19.2},{"s":"L","t":290,"g":-18.9},{"s":"L","t":300,"g":-19.3},{"s":"L","t":310,"g":-20.7},{"s":"L","t":320,"g":-22},{"s":"L","t":330,"g":-23},{"s":"L","t":340,"g":-22},{"s":"L","t":350,"g":-21.3},{"s":"L","t":360,"g":-20.5}
]
},
"columns":2,
"spacing":{"row":91,"column":57},
"bounds":"flush",
"resolve":{"scale":{"x":"independent","y":"independent","color":"independent","strokeDash":"independent","theta":"independent","radius":"independent"},"axis":{"x":"independent","y":"independent"},"legend":{"color":"independent","strokeDash":"independent"}},
"concat":[
{"width":262,"height":262,
"title":{"text":"5.2 GHz","anchor":"start","frame":"group","dx":-23,"dy":56,"color":"#ee1c25","font":"Liberation Sans","fontSize":15,"fontWeight":"bold","fontStyle":"italic"},
"layer":[
{"data":{"name":"rings"},"mark":{"type":"arc","theta":0,"theta2":6.2832,"filled":false,"strokeWidth":1},"encoding":{"radius":{"field":"v","type":"quantitative","scale":{"type":"linear","domain":[-30,5],"range":[0,131],"zero":false}},"stroke":{"condition":{"test":"datum.k=='o'","value":"#7a7a7a"},"value":"#c4c4c4"},"strokeDash":{"condition":{"test":"datum.k=='d'","value":[2,2]},"value":[1,0]}}},
{"data":{"name":"spokes"},"transform":[{"calculate":"(datum.f+30)*sin(datum.t*PI/180)","as":"x0"},{"calculate":"(datum.f+30)*cos(datum.t*PI/180)","as":"y0"},{"calculate":"35*sin(datum.t*PI/180)","as":"x1"},{"calculate":"35*cos(datum.t*PI/180)","as":"y1"}],"mark":{"type":"rule","stroke":"#c4c4c4","strokeWidth":1},"encoding":{"x":{"field":"x0","type":"quantitative","scale":{"domain":[-35,35],"nice":false,"zero":false},"axis":{"title":"(a)"}},"y":{"field":"y0","type":"quantitative","scale":{"domain":[-35,35],"nice":false,"zero":false},"axis":null},"x2":{"field":"x1"},"y2":{"field":"y1"},"strokeDash":{"condition":{"test":"datum.f==-20","value":[2,2]},"value":[1,0]}}},
{"data":{"name":"alab"},"mark":{"type":"text","font":"Liberation Sans","fontSize":15,"color":"#111"},"encoding":{"theta":{"field":"t","type":"quantitative","scale":{"type":"linear","domain":[0,360],"range":[0,6.283185]}},"radius":{"datum":9.3,"type":"quantitative","scale":{"type":"linear","domain":[-30,5],"range":[0,131],"zero":false}},"text":{"field":"l"}}},
{"data":{"name":"a"},"transform":[{"filter":"datum.s=='M'"},{"calculate":"max(datum.g,-30)+30","as":"r"},{"calculate":"datum.r*sin(datum.t*PI/180)","as":"x"},{"calculate":"datum.r*cos(datum.t*PI/180)","as":"y"}],"mark":{"type":"line","strokeWidth":1.9},"encoding":{"x":{"field":"x","type":"quantitative","scale":{"domain":[-35,35],"nice":false,"zero":false},"axis":{"title":"(a)"}},"y":{"field":"y","type":"quantitative","scale":{"domain":[-35,35],"nice":false,"zero":false},"axis":null},"order":{"field":"t","type":"quantitative"},"color":{"field":"s","type":"nominal","scale":{"domain":["M","G","L"],"range":["#000000","#ff0000","#0000ff"]},"legend":{"title":null,"orient":"none","legendX":91,"legendY":224,"labelExpr":"datum.label=='M'?'Measured':datum.label=='G'?'Gain-Total (sim.)':'LHCP (sim.)'"}},"strokeDash":{"field":"s","type":"nominal","scale":{"domain":["M","G","L"],"range":[[1,0],[6.5,3.5],[8,4,2,4]]},"legend":{"title":null,"orient":"none","legendX":91,"legendY":224,"labelExpr":"datum.label=='M'?'Measured':datum.label=='G'?'Gain-Total (sim.)':'LHCP (sim.)'"}}}},
{"data":{"name":"a"},"transform":[{"filter":"datum.s!='M'"},{"calculate":"max(datum.g,-30)+30","as":"r"},{"calculate":"datum.r*sin(datum.t*PI/180)","as":"x"},{"calculate":"datum.r*cos(datum.t*PI/180)","as":"y"}],"mark":{"type":"line","strokeWidth":2.5,"interpolate":"catmull-rom"},"encoding":{"x":{"field":"x","type":"quantitative","scale":{"domain":[-35,35],"nice":false,"zero":false},"axis":{"title":"(a)"}},"y":{"field":"y","type":"quantitative","scale":{"domain":[-35,35],"nice":false,"zero":false},"axis":null},"order":{"field":"t","type":"quantitative"},"color":{"field":"s","type":"nominal","scale":{"domain":["M","G","L"],"range":["#000000","#ff0000","#0000ff"]}},"strokeDash":{"field":"s","type":"nominal","scale":{"domain":["M","G","L"],"range":[[1,0],[6.5,3.5],[8,4,2,4]]}}}},
{"data":{"name":"rlab"},"mark":{"type":"text","font":"Liberation Sans","fontSize":14,"color":"#111","baseline":"bottom","dy":-2},"encoding":{"theta":{"datum":0,"type":"quantitative","scale":{"type":"linear","domain":[0,360],"range":[0,6.283185]}},"radius":{"field":"v","type":"quantitative","scale":{"type":"linear","domain":[-30,5],"range":[0,131],"zero":false}},"text":{"field":"l"}}}
]},
{"width":262,"height":262,
"title":{"text":"5.2 GHz","anchor":"start","frame":"group","dx":-23,"dy":56,"color":"#ee1c25","font":"Liberation Sans","fontSize":15,"fontWeight":"bold","fontStyle":"italic"},
"layer":[
{"data":{"name":"rings"},"mark":{"type":"arc","theta":0,"theta2":6.2832,"filled":false,"strokeWidth":1},"encoding":{"radius":{"field":"v","type":"quantitative","scale":{"type":"linear","domain":[-30,5],"range":[0,131],"zero":false}},"stroke":{"condition":{"test":"datum.k=='o'","value":"#7a7a7a"},"value":"#c4c4c4"},"strokeDash":{"condition":{"test":"datum.k=='d'","value":[2,2]},"value":[1,0]}}},
{"data":{"name":"spokes"},"transform":[{"calculate":"(datum.f+30)*sin(datum.t*PI/180)","as":"x0"},{"calculate":"(datum.f+30)*cos(datum.t*PI/180)","as":"y0"},{"calculate":"35*sin(datum.t*PI/180)","as":"x1"},{"calculate":"35*cos(datum.t*PI/180)","as":"y1"}],"mark":{"type":"rule","stroke":"#c4c4c4","strokeWidth":1},"encoding":{"x":{"field":"x0","type":"quantitative","scale":{"domain":[-35,35],"nice":false,"zero":false},"axis":{"title":"(b)"}},"y":{"field":"y0","type":"quantitative","scale":{"domain":[-35,35],"nice":false,"zero":false},"axis":null},"x2":{"field":"x1"},"y2":{"field":"y1"},"strokeDash":{"condition":{"test":"datum.f==-20","value":[2,2]},"value":[1,0]}}},
{"data":{"name":"alab"},"mark":{"type":"text","font":"Liberation Sans","fontSize":15,"color":"#111"},"encoding":{"theta":{"field":"t","type":"quantitative","scale":{"type":"linear","domain":[0,360],"range":[0,6.283185]}},"radius":{"datum":9.3,"type":"quantitative","scale":{"type":"linear","domain":[-30,5],"range":[0,131],"zero":false}},"text":{"field":"l"}}},
{"data":{"name":"b"},"transform":[{"filter":"datum.s=='M'"},{"calculate":"max(datum.g,-30)+30","as":"r"},{"calculate":"datum.r*sin(datum.t*PI/180)","as":"x"},{"calculate":"datum.r*cos(datum.t*PI/180)","as":"y"}],"mark":{"type":"line","strokeWidth":1.9},"encoding":{"x":{"field":"x","type":"quantitative","scale":{"domain":[-35,35],"nice":false,"zero":false},"axis":{"title":"(b)"}},"y":{"field":"y","type":"quantitative","scale":{"domain":[-35,35],"nice":false,"zero":false},"axis":null},"order":{"field":"t","type":"quantitative"},"color":{"field":"s","type":"nominal","scale":{"domain":["M","G","L"],"range":["#000000","#ff0000","#0000ff"]},"legend":{"title":null,"orient":"none","legendX":91,"legendY":224,"labelExpr":"datum.label=='M'?'Measured':datum.label=='G'?'Gain-Total (sim.)':'LHCP (sim.)'"}},"strokeDash":{"field":"s","type":"nominal","scale":{"domain":["M","G","L"],"range":[[1,0],[6.5,3.5],[8,4,2,4]]},"legend":{"title":null,"orient":"none","legendX":91,"legendY":224,"labelExpr":"datum.label=='M'?'Measured':datum.label=='G'?'Gain-Total (sim.)':'LHCP (sim.)'"}}}},
{"data":{"name":"b"},"transform":[{"filter":"datum.s!='M'"},{"calculate":"max(datum.g,-30)+30","as":"r"},{"calculate":"datum.r*sin(datum.t*PI/180)","as":"x"},{"calculate":"datum.r*cos(datum.t*PI/180)","as":"y"}],"mark":{"type":"line","strokeWidth":2.5,"interpolate":"catmull-rom"},"encoding":{"x":{"field":"x","type":"quantitative","scale":{"domain":[-35,35],"nice":false,"zero":false},"axis":{"title":"(b)"}},"y":{"field":"y","type":"quantitative","scale":{"domain":[-35,35],"nice":false,"zero":false},"axis":null},"order":{"field":"t","type":"quantitative"},"color":{"field":"s","type":"nominal","scale":{"domain":["M","G","L"],"range":["#000000","#ff0000","#0000ff"]}},"strokeDash":{"field":"s","type":"nominal","scale":{"domain":["M","G","L"],"range":[[1,0],[6.5,3.5],[8,4,2,4]]}}}},
{"data":{"name":"rlab"},"mark":{"type":"text","font":"Liberation Sans","fontSize":14,"color":"#111","baseline":"bottom","dy":-2},"encoding":{"theta":{"datum":0,"type":"quantitative","scale":{"type":"linear","domain":[0,360],"range":[0,6.283185]}},"radius":{"field":"v","type":"quantitative","scale":{"type":"linear","domain":[-30,5],"range":[0,131],"zero":false}},"text":{"field":"l"}}}
]},
{"width":262,"height":262,
"title":{"text":"6 GHz","anchor":"start","frame":"group","dx":-23,"dy":56,"color":"#ee1c25","font":"Liberation Sans","fontSize":15,"fontWeight":"bold","fontStyle":"italic"},
"layer":[
{"data":{"name":"rings"},"mark":{"type":"arc","theta":0,"theta2":6.2832,"filled":false,"strokeWidth":1},"encoding":{"radius":{"field":"v","type":"quantitative","scale":{"type":"linear","domain":[-30,5],"range":[0,131],"zero":false}},"stroke":{"condition":{"test":"datum.k=='o'","value":"#7a7a7a"},"value":"#c4c4c4"},"strokeDash":{"condition":{"test":"datum.k=='d'","value":[2,2]},"value":[1,0]}}},
{"data":{"name":"spokes"},"transform":[{"calculate":"(datum.f+30)*sin(datum.t*PI/180)","as":"x0"},{"calculate":"(datum.f+30)*cos(datum.t*PI/180)","as":"y0"},{"calculate":"35*sin(datum.t*PI/180)","as":"x1"},{"calculate":"35*cos(datum.t*PI/180)","as":"y1"}],"mark":{"type":"rule","stroke":"#c4c4c4","strokeWidth":1},"encoding":{"x":{"field":"x0","type":"quantitative","scale":{"domain":[-35,35],"nice":false,"zero":false},"axis":{"title":"(c)"}},"y":{"field":"y0","type":"quantitative","scale":{"domain":[-35,35],"nice":false,"zero":false},"axis":null},"x2":{"field":"x1"},"y2":{"field":"y1"},"strokeDash":{"condition":{"test":"datum.f==-20","value":[2,2]},"value":[1,0]}}},
{"data":{"name":"alab"},"mark":{"type":"text","font":"Liberation Sans","fontSize":15,"color":"#111"},"encoding":{"theta":{"field":"t","type":"quantitative","scale":{"type":"linear","domain":[0,360],"range":[0,6.283185]}},"radius":{"datum":9.3,"type":"quantitative","scale":{"type":"linear","domain":[-30,5],"range":[0,131],"zero":false}},"text":{"field":"l"}}},
{"data":{"name":"c"},"transform":[{"filter":"datum.s=='M'"},{"calculate":"max(datum.g,-30)+30","as":"r"},{"calculate":"datum.r*sin(datum.t*PI/180)","as":"x"},{"calculate":"datum.r*cos(datum.t*PI/180)","as":"y"}],"mark":{"type":"line","strokeWidth":1.9},"encoding":{"x":{"field":"x","type":"quantitative","scale":{"domain":[-35,35],"nice":false,"zero":false},"axis":{"title":"(c)"}},"y":{"field":"y","type":"quantitative","scale":{"domain":[-35,35],"nice":false,"zero":false},"axis":null},"order":{"field":"t","type":"quantitative"},"color":{"field":"s","type":"nominal","scale":{"domain":["M","G","L"],"range":["#000000","#ff0000","#0000ff"]},"legend":{"title":null,"orient":"none","legendX":91,"legendY":224,"labelExpr":"datum.label=='M'?'Measured':datum.label=='G'?'Gain-Total (sim.)':'LHCP (sim.)'"}},"strokeDash":{"field":"s","type":"nominal","scale":{"domain":["M","G","L"],"range":[[1,0],[6.5,3.5],[8,4,2,4]]},"legend":{"title":null,"orient":"none","legendX":91,"legendY":224,"labelExpr":"datum.label=='M'?'Measured':datum.label=='G'?'Gain-Total (sim.)':'LHCP (sim.)'"}}}},
{"data":{"name":"c"},"transform":[{"filter":"datum.s!='M'"},{"calculate":"max(datum.g,-30)+30","as":"r"},{"calculate":"datum.r*sin(datum.t*PI/180)","as":"x"},{"calculate":"datum.r*cos(datum.t*PI/180)","as":"y"}],"mark":{"type":"line","strokeWidth":2.5,"interpolate":"catmull-rom"},"encoding":{"x":{"field":"x","type":"quantitative","scale":{"domain":[-35,35],"nice":false,"zero":false},"axis":{"title":"(c)"}},"y":{"field":"y","type":"quantitative","scale":{"domain":[-35,35],"nice":false,"zero":false},"axis":null},"order":{"field":"t","type":"quantitative"},"color":{"field":"s","type":"nominal","scale":{"domain":["M","G","L"],"range":["#000000","#ff0000","#0000ff"]}},"strokeDash":{"field":"s","type":"nominal","scale":{"domain":["M","G","L"],"range":[[1,0],[6.5,3.5],[8,4,2,4]]}}}},
{"data":{"name":"rlab"},"mark":{"type":"text","font":"Liberation Sans","fontSize":14,"color":"#111","baseline":"bottom","dy":-2},"encoding":{"theta":{"datum":0,"type":"quantitative","scale":{"type":"linear","domain":[0,360],"range":[0,6.283185]}},"radius":{"field":"v","type":"quantitative","scale":{"type":"linear","domain":[-30,5],"range":[0,131],"zero":false}},"text":{"field":"l"}}}
]},
{"width":262,"height":262,
"title":{"text":"6 GHz","anchor":"start","frame":"group","dx":-23,"dy":56,"color":"#ee1c25","font":"Liberation Sans","fontSize":15,"fontWeight":"bold","fontStyle":"italic"},
"layer":[
{"data":{"name":"rings"},"mark":{"type":"arc","theta":0,"theta2":6.2832,"filled":false,"strokeWidth":1},"encoding":{"radius":{"field":"v","type":"quantitative","scale":{"type":"linear","domain":[-30,5],"range":[0,131],"zero":false}},"stroke":{"condition":{"test":"datum.k=='o'","value":"#7a7a7a"},"value":"#c4c4c4"},"strokeDash":{"condition":{"test":"datum.k=='d'","value":[2,2]},"value":[1,0]}}},
{"data":{"name":"spokes"},"transform":[{"calculate":"(datum.f+30)*sin(datum.t*PI/180)","as":"x0"},{"calculate":"(datum.f+30)*cos(datum.t*PI/180)","as":"y0"},{"calculate":"35*sin(datum.t*PI/180)","as":"x1"},{"calculate":"35*cos(datum.t*PI/180)","as":"y1"}],"mark":{"type":"rule","stroke":"#c4c4c4","strokeWidth":1},"encoding":{"x":{"field":"x0","type":"quantitative","scale":{"domain":[-35,35],"nice":false,"zero":false},"axis":{"title":"(d)"}},"y":{"field":"y0","type":"quantitative","scale":{"domain":[-35,35],"nice":false,"zero":false},"axis":null},"x2":{"field":"x1"},"y2":{"field":"y1"},"strokeDash":{"condition":{"test":"datum.f==-20","value":[2,2]},"value":[1,0]}}},
{"data":{"name":"alab"},"mark":{"type":"text","font":"Liberation Sans","fontSize":15,"color":"#111"},"encoding":{"theta":{"field":"t","type":"quantitative","scale":{"type":"linear","domain":[0,360],"range":[0,6.283185]}},"radius":{"datum":9.3,"type":"quantitative","scale":{"type":"linear","domain":[-30,5],"range":[0,131],"zero":false}},"text":{"field":"l"}}},
{"data":{"name":"d"},"transform":[{"filter":"datum.s=='M'"},{"calculate":"max(datum.g,-30)+30","as":"r"},{"calculate":"datum.r*sin(datum.t*PI/180)","as":"x"},{"calculate":"datum.r*cos(datum.t*PI/180)","as":"y"}],"mark":{"type":"line","strokeWidth":1.9},"encoding":{"x":{"field":"x","type":"quantitative","scale":{"domain":[-35,35],"nice":false,"zero":false},"axis":{"title":"(d)"}},"y":{"field":"y","type":"quantitative","scale":{"domain":[-35,35],"nice":false,"zero":false},"axis":null},"order":{"field":"t","type":"quantitative"},"color":{"field":"s","type":"nominal","scale":{"domain":["M","G","L"],"range":["#000000","#ff0000","#0000ff"]},"legend":{"title":null,"orient":"none","legendX":91,"legendY":224,"labelExpr":"datum.label=='M'?'Measured':datum.label=='G'?'Gain-Total (sim.)':'LHCP (sim.)'"}},"strokeDash":{"field":"s","type":"nominal","scale":{"domain":["M","G","L"],"range":[[1,0],[6.5,3.5],[8,4,2,4]]},"legend":{"title":null,"orient":"none","legendX":91,"legendY":224,"labelExpr":"datum.label=='M'?'Measured':datum.label=='G'?'Gain-Total (sim.)':'LHCP (sim.)'"}}}},
{"data":{"name":"d"},"transform":[{"filter":"datum.s!='M'"},{"calculate":"max(datum.g,-30)+30","as":"r"},{"calculate":"datum.r*sin(datum.t*PI/180)","as":"x"},{"calculate":"datum.r*cos(datum.t*PI/180)","as":"y"}],"mark":{"type":"line","strokeWidth":2.5,"interpolate":"catmull-rom"},"encoding":{"x":{"field":"x","type":"quantitative","scale":{"domain":[-35,35],"nice":false,"zero":false},"axis":{"title":"(d)"}},"y":{"field":"y","type":"quantitative","scale":{"domain":[-35,35],"nice":false,"zero":false},"axis":null},"order":{"field":"t","type":"quantitative"},"color":{"field":"s","type":"nominal","scale":{"domain":["M","G","L"],"range":["#000000","#ff0000","#0000ff"]}},"strokeDash":{"field":"s","type":"nominal","scale":{"domain":["M","G","L"],"range":[[1,0],[6.5,3.5],[8,4,2,4]]}}}},
{"data":{"name":"rlab"},"mark":{"type":"text","font":"Liberation Sans","fontSize":14,"color":"#111","baseline":"bottom","dy":-2},"encoding":{"theta":{"datum":0,"type":"quantitative","scale":{"type":"linear","domain":[0,360],"range":[0,6.283185]}},"radius":{"field":"v","type":"quantitative","scale":{"type":"linear","domain":[-30,5],"range":[0,131],"zero":false}},"text":{"field":"l"}}}
]}
]
}
